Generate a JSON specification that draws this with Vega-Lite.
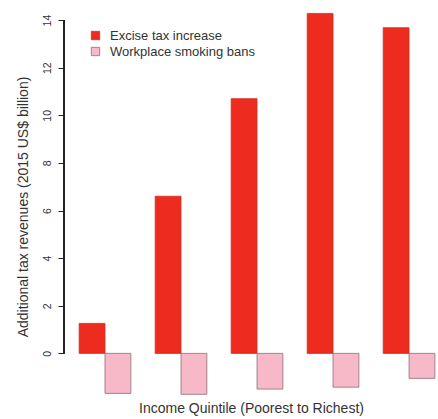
{
  "$schema": "https://vega.github.io/schema/vega-lite/v6.json",
  "autosize": "none",
  "width": 374,
  "height": 389,
  "padding": {"left": 64, "top": 12, "right": 0, "bottom": 18},
  "background": "white",
  "config": {
    "view": {"stroke": null},
    "font": "Liberation Sans",
    "axis": {"labelFont": "Liberation Sans", "titleFont": "Liberation Sans", "titleFontWeight": "normal", "labelColor": "#333", "titleColor": "#333"},
    "legend": {"labelFont": "Liberation Sans"}
  },
  "data": {
    "values": [
      {"quintile": "Q1", "policy": "Excise tax increase", "value": 1.26},
      {"quintile": "Q1", "policy": "Workplace smoking bans", "value": -1.68},
      {"quintile": "Q2", "policy": "Excise tax increase", "value": 6.6},
      {"quintile": "Q2", "policy": "Workplace smoking bans", "value": -1.72},
      {"quintile": "Q3", "policy": "Excise tax increase", "value": 10.7},
      {"quintile": "Q3", "policy": "Workplace smoking bans", "value": -1.5},
      {"quintile": "Q4", "policy": "Excise tax increase", "value": 14.28},
      {"quintile": "Q4", "policy": "Workplace smoking bans", "value": -1.42},
      {"quintile": "Q5", "policy": "Excise tax increase", "value": 13.68},
      {"quintile": "Q5", "policy": "Workplace smoking bans", "value": -1.05}
    ]
  },
  "layer": [
    {
      "mark": {"type": "bar", "strokeWidth": 0.8, "clip": true},
      "encoding": {
        "x": {
          "field": "quintile", "type": "nominal",
          "scale": {"paddingInner": 0.32, "paddingOuter": 0.12, "align": 0.83},
          "axis": {"labels": false, "ticks": false, "domain": false, "title": "Income Quintile (Poorest to Richest)", "titleFontSize": 14, "titlePadding": 0}
        },
        "xOffset": {"field": "policy", "type": "nominal", "scale": {"paddingInner": 0, "paddingOuter": 0}},
        "y": {
          "field": "value", "type": "quantitative",
          "scale": {"domain": [-2, 14.34], "nice": false, "zero": false},
          "axis": {"values": [0, 2, 4, 6, 8, 10, 12, 14], "domain": false, "grid": false, "labelAngle": 270, "labelFontSize": 10.5, "labelPadding": 6, "tickSize": 6, "tickColor": "#222", "title": "Additional tax revenues (2015 US$ billion)", "titleFontSize": 14, "titlePadding": 12}
        },
        "color": {
          "field": "policy", "type": "nominal",
          "scale": {"domain": ["Excise tax increase", "Workplace smoking bans"], "range": ["#ee2b1f", "#f7b8c8"]},
          "legend": {"title": null, "orient": "none", "legendX": 25, "legendY": 17, "symbolType": "square", "symbolSize": 70, "symbolStrokeWidth": 0.8, "labelFontSize": 13, "labelColor": "#333", "rowPadding": 2, "labelOffset": 8}
        },
        "stroke": {
          "field": "policy", "type": "nominal",
          "scale": {"domain": ["Excise tax increase", "Workplace smoking bans"], "range": ["#d0301f", "#8a7078"]},
          "legend": null
        }
      }
    },
    {
      "mark": {"type": "rule", "color": "#222", "strokeWidth": 1},
      "encoding": {
        "x": {"value": 0},
        "y": {"datum": 0, "type": "quantitative"},
        "y2": {"datum": 14}
      }
    }
  ]
}
